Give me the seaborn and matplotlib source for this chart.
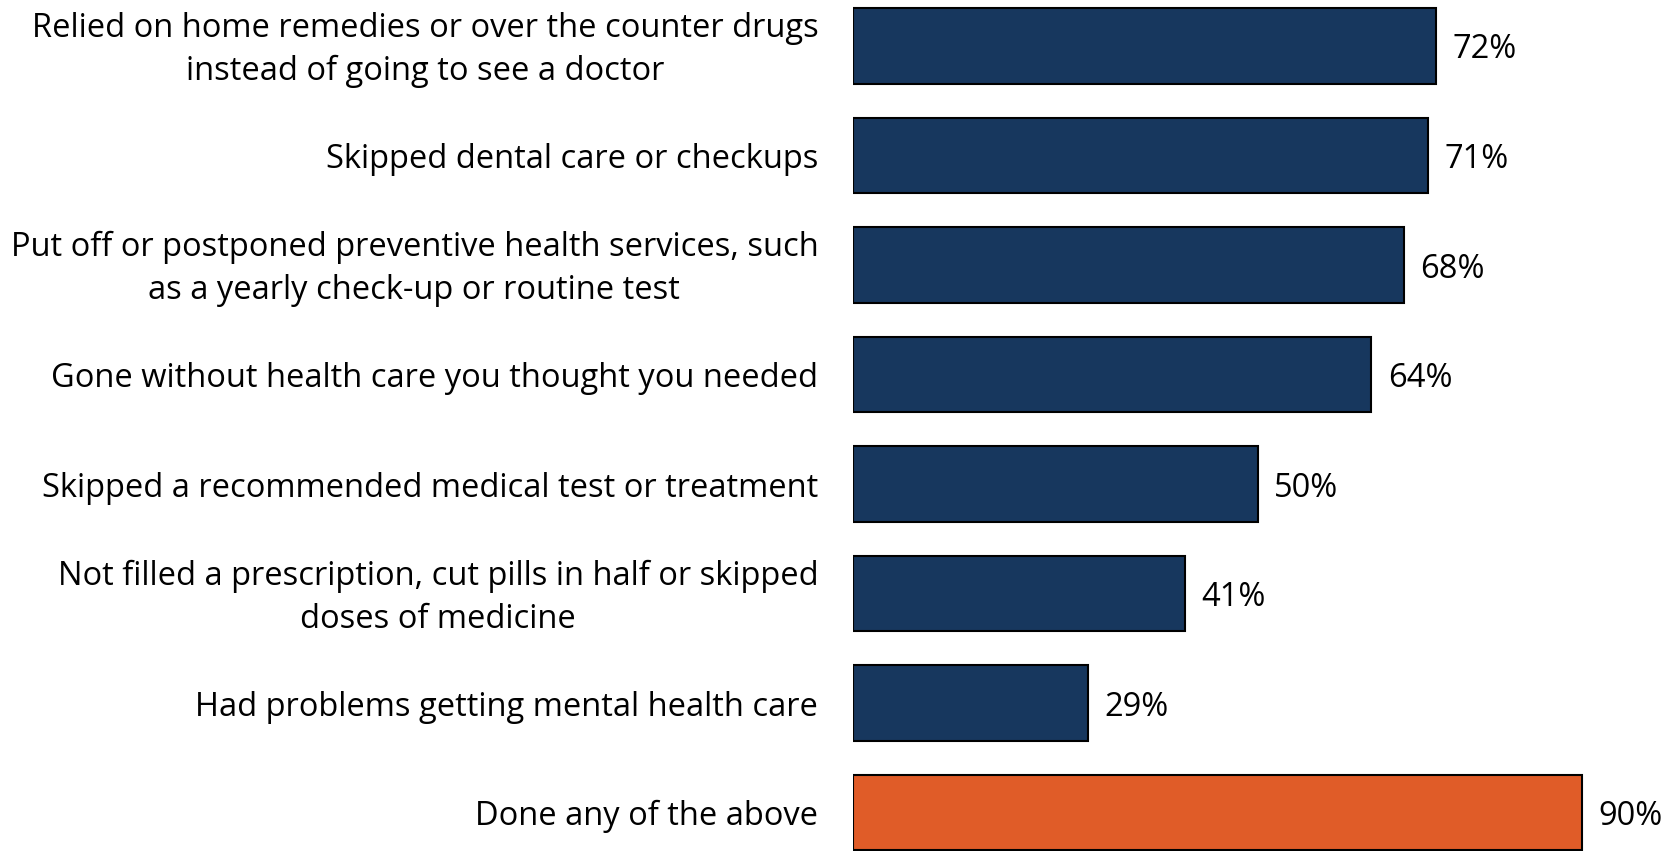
import matplotlib
matplotlib.use("Agg")
import matplotlib.pyplot as plt
import matplotlib.transforms as mtransforms
import seaborn as sns
import pandas as pd

categories = [
    "Relied on home remedies or over the counter drugs\ninstead of going to see a doctor",
    "Skipped dental care or checkups",
    "Put off or postponed preventive health services, such\nas a yearly check-up or routine test",
    "Gone without health care you thought you needed",
    "Skipped a recommended medical test or treatment",
    "Not filled a prescription, cut pills in half or skipped\ndoses of medicine",
    "Had problems getting mental health care",
    "Done any of the above",
]
values = [72, 71, 68, 64, 50, 41, 29, 90]
colors = ["#17375E"] * 7 + ["#E05C28"]

df = pd.DataFrame({"item": categories, "pct": values})

sns.set_style("white")
plt.rcParams["font.family"] = ["Open Sans", "DejaVu Sans"]

fig = plt.figure(figsize=(16.76, 8.51), dpi=100)
ax = fig.add_axes([853 / 1676, 0, 1 - 853 / 1676, 1])

sns.barplot(data=df, x="pct", y="item", hue="item", palette=colors, saturation=1,
            width=0.69, edgecolor="black", linewidth=1.5, legend=False, ax=ax)

ax.set_xlim(0, 101.6)
ax.set_ylim(7.35, -0.42)
ax.set_xlabel("")
ax.set_ylabel("")
ax.set_xticks([])
ax.tick_params(axis="y", length=0, pad=25)
ax.set_yticks(range(len(categories)))
ax.set_yticklabels(categories, fontsize=23.5, ha="right", multialignment="center",
                   linespacing=1.4, color="black")
# nudge the two-line labels up a little
shift = mtransforms.ScaledTranslation(0, 5 / 100, fig.dpi_scale_trans)
for lab in ax.get_yticklabels():
    if "\n" in lab.get_text():
        lab.set_transform(lab.get_transform() + shift)
for s in ax.spines.values():
    s.set_visible(False)

for i, v in enumerate(values):
    ax.text(v + 2, i, f"{v}%", va="center_baseline", ha="left", fontsize=23.5, color="black")

fig.savefig("out.png", dpi=100)
